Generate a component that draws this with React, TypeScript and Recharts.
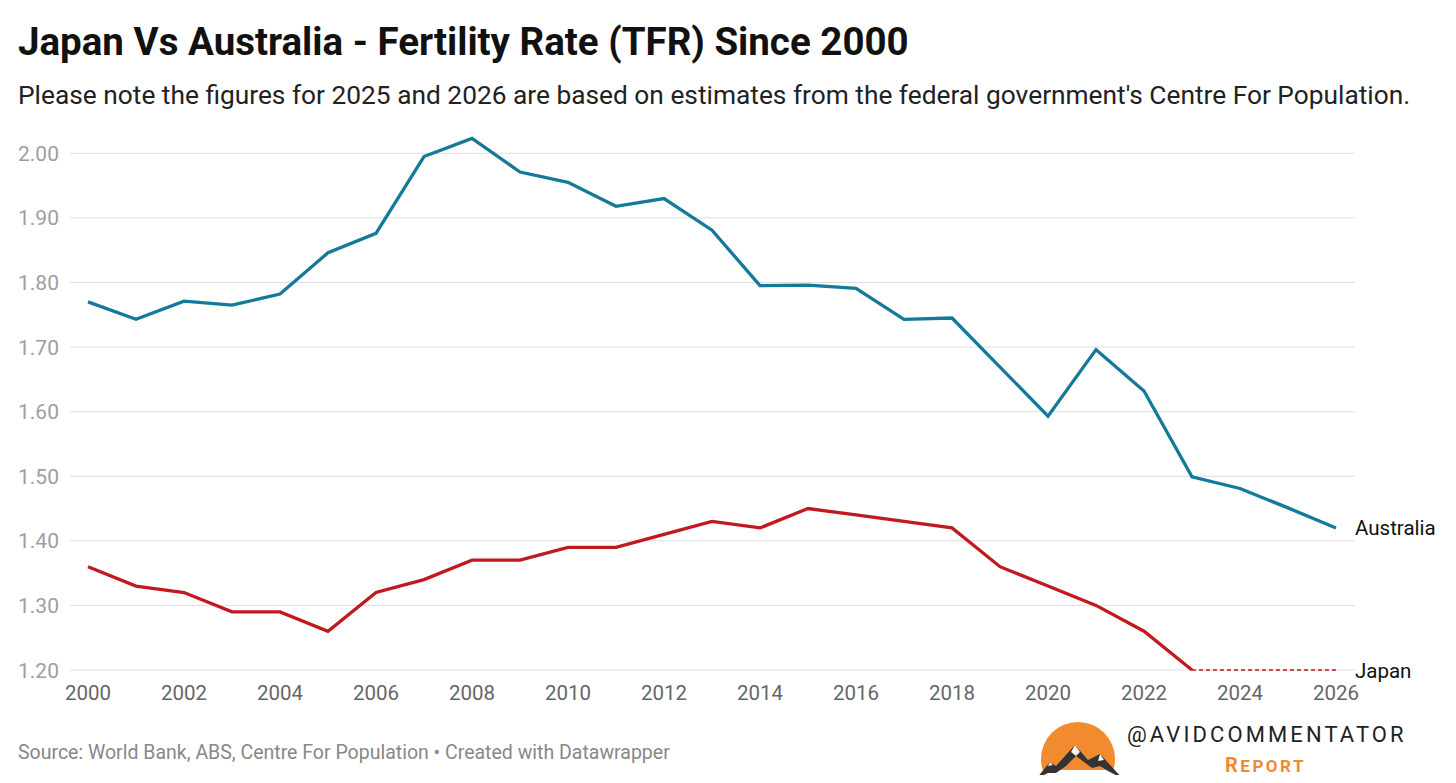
import { LineChart, Line, XAxis, YAxis, CartesianGrid } from "recharts";

const years = [2000, 2001, 2002, 2003, 2004, 2005, 2006, 2007, 2008, 2009, 2010, 2011, 2012, 2013, 2014, 2015, 2016, 2017, 2018, 2019, 2020, 2021, 2022, 2023, 2024, 2025, 2026];
const australia = [1.77, 1.743, 1.771, 1.765, 1.782, 1.846, 1.876, 1.995, 2.023, 1.971, 1.955, 1.918, 1.93, 1.881, 1.795, 1.796, 1.791, 1.743, 1.745, 1.669, 1.593, 1.696, 1.632, 1.499, 1.481, 1.451, 1.42];
const japan = [1.36, 1.33, 1.32, 1.29, 1.29, 1.26, 1.32, 1.34, 1.37, 1.37, 1.39, 1.39, 1.41, 1.43, 1.42, 1.45, 1.44, 1.43, 1.42, 1.36, 1.33, 1.3, 1.26, 1.2, null, null, null];
const japanEstimate = [null, null, null, null, null, null, null, null, null, null, null, null, null, null, null, null, null, null, null, null, null, null, null, 1.2, 1.2, 1.2, 1.2];
const yTicks = [1.2, 1.3, 1.4, 1.5, 1.6, 1.7, 1.8, 1.9, 2.0];
const xTicks = [2000, 2002, 2004, 2006, 2008, 2010, 2012, 2014, 2016, 2018, 2020, 2022, 2024, 2026];

const data = years.map((year, i) => ({
  year,
  australia: australia[i],
  japan: japan[i],
  japanEstimate: japanEstimate[i],
}));

const AUS = "#15799a";
const JPN = "#c0191e";
const FONT = "Roboto, 'Noto Sans', sans-serif";

function YTick(props: any) {
  return (
    <text x={18} y={props.y} dy={7.5} fontSize={21} fill="#9e9e9e" fontFamily={FONT}>
      {Number(props.payload.value).toFixed(2)}
    </text>
  );
}

function XTick(props: any) {
  return (
    <text x={props.x} y={props.y} dy={22} textAnchor="middle" fontSize={20.5} fill="#666" fontFamily={FONT}>
      {props.payload.value}
    </text>
  );
}

function endLabel(name: string) {
  return (props: any) => {
    if (props.index !== years.length - 1 || props.value == null) return null;
    return (
      <text x={props.x + 19} y={props.y} dy={7.5} fontSize={20.5} fill="#111" fontFamily={FONT}>
        {name}
      </text>
    );
  };
}

function Logo() {
  return (
    <div style={{ position: "absolute", left: 1030, top: 716, width: 420, height: 67 }}>
      <svg width={100} height={67} style={{ position: "absolute", left: 0, top: 0 }}>
        <defs>
          <clipPath id="sun">
            <rect x={0} y={0} width={100} height={54} />
          </clipPath>
        </defs>
        <circle cx={48} cy={43} r={37} fill="#f28a30" clipPath="url(#sun)" />
        <path d="M6 63 L20 46 L26 50 L45 29 L58 44 L70 38 L93 63 L78 55 L70 50 L62 52 L54 46 L46 40 L36 50 L26 57 L18 57 Z" fill="#333" />
        <path d="M45 29 L50 36 L46 40 L41 36 Z M70 38 L74 44 L68 45 Z M20 46 L23 49 L18 50 Z" fill="#f2f2f2" />
      </svg>
      <div style={{ position: "absolute", left: 97, top: 6, fontFamily: FONT, fontSize: 22, letterSpacing: 3.1, color: "#222", whiteSpace: "nowrap" }}>
        @AVIDCOMMENTATOR
      </div>
      <div style={{ position: "absolute", left: 195, top: 37, fontFamily: FONT, fontSize: 20, fontWeight: 700, letterSpacing: 2.5, color: "#f08a30", whiteSpace: "nowrap" }}>
        R<span style={{ fontSize: 17 }}>EPORT</span>
      </div>
    </div>
  );
}

export default function App() {
  return (
    <div style={{ position: "relative", width: 1456, height: 783, margin: -8, background: "#fff", overflow: "hidden", fontFamily: FONT }}>
      <div style={{ position: "absolute", left: 18, top: 19, fontSize: 38.5, fontWeight: 700, color: "#111", whiteSpace: "nowrap" }}>
        Japan Vs Australia - Fertility Rate (TFR) Since 2000
      </div>
      <div style={{ position: "absolute", left: 18, top: 80, fontSize: 26.3, color: "#222", whiteSpace: "nowrap" }}>
        Please note the figures for 2025 and 2026 are based on estimates from the federal government's Centre For Population.
      </div>

      <div style={{ position: "absolute", left: 0, top: 0 }}>
        <LineChart width={1456} height={720} data={data} margin={{ top: 121, right: 101, bottom: 0, left: 0 }}>
          <CartesianGrid vertical={false} stroke="#dedede" strokeWidth={1} horizontalValues={yTicks} />
          <XAxis
            dataKey="year"
            type="number"
            domain={[2000, 2026]}
            ticks={xTicks}
            padding={{ left: 18, right: 19 }}
            axisLine={false}
            tickLine={false}
            tick={<XTick />}
            height={50}
            interval={0}
          />
          <YAxis
            domain={[1.2, 2.05]}
            ticks={yTicks}
            axisLine={false}
            tickLine={false}
            tick={<YTick />}
            width={70}
            interval={0}
          />
          <Line
            dataKey="australia"
            stroke={AUS}
            strokeWidth={3.3}
            dot={false}
            isAnimationActive={false}
            label={endLabel("Australia")}
          />
          <Line
            dataKey="japan"
            stroke={JPN}
            strokeWidth={3.3}
            dot={false}
            isAnimationActive={false}
          />
          <Line
            dataKey="japanEstimate"
            stroke={JPN}
            strokeWidth={1.6}
            strokeDasharray="4 3"
            dot={false}
            isAnimationActive={false}
            label={endLabel("Japan")}
          />
        </LineChart>
      </div>

      <div style={{ position: "absolute", left: 18, top: 741, fontSize: 19.5, color: "#888", whiteSpace: "nowrap" }}>
        Source: World Bank, ABS, Centre For Population • Created with Datawrapper
      </div>
      <Logo />
    </div>
  );
}
